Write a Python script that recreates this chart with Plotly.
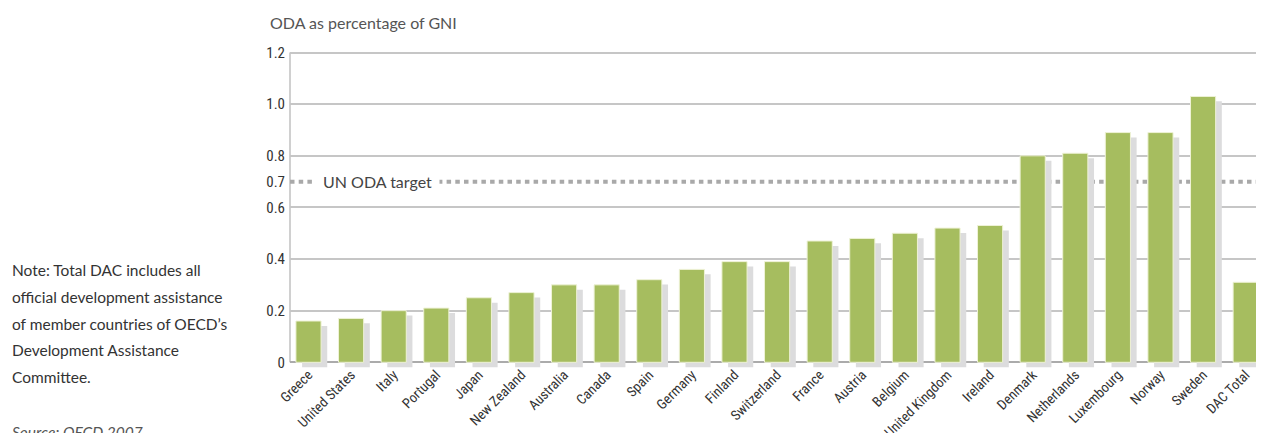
import plotly.graph_objects as go

countries = ["Greece", "United States", "Italy", "Portugal", "Japan", "New Zealand",
             "Australia", "Canada", "Spain", "Germany", "Finland", "Switzerland",
             "France", "Austria", "Belgium", "United Kingdom", "Ireland", "Denmark",
             "Netherlands", "Luxembourg", "Norway", "Sweden", "DAC Total"]
oda_pct_gni = [0.16, 0.17, 0.20, 0.21, 0.25, 0.27, 0.30, 0.30, 0.32, 0.36, 0.39, 0.39,
               0.47, 0.48, 0.50, 0.52, 0.53, 0.80, 0.81, 0.89, 0.89, 1.03, 0.31]
un_target = 0.7
y_ticks = [0, 0.2, 0.4, 0.6, 0.8, 1.0, 1.2]
y_tick_text = ["0", "0.2", "0.4", "0.6", "0.8", "1.0", "1.2"]
note_lines = ["Note: Total DAC includes all",
              "official development assistance",
              "of member countries of OECD\u2019s",
              "Development Assistance",
              "Committee."]
source_text = "Source: OECD 2007"
title_text = "ODA as percentage of GNI"
target_label = "UN ODA target"

# page has an 8px body margin; lay out in page pixels and convert
OFF = 8
PAGE_W, PAGE_H = 1264, 433
W, H = PAGE_W - OFF, PAGE_H - OFF
PLOT_L, PLOT_T, PLOT_B = 290, 50, 369          # page pixels
ML, MR = PLOT_L - OFF, 0
MT = PLOT_T - OFF
MB = H - (PLOT_B - OFF)
PW, PH = W - ML - MR, H - MT - MB

def px_x(px):
    return (px - PLOT_L) / PW

def px_y(py):
    return (PLOT_B - py) / PH

GREEN = "#a6bd5f"
SHADOW = "#dcdcdd"
COND = "Liberation Sans Narrow, Roboto Condensed, DejaVu Sans Condensed, sans-serif"
TEXTF = "Lato, Open Sans, sans-serif"

bw = 0.59
shift_x = 0.145
shift_y = 0.019

fig = go.Figure()
fig.add_trace(go.Bar(
    x=countries, y=oda_pct_gni, base=-shift_y, width=bw, offset=-bw / 2 + shift_x,
    marker=dict(color=SHADOW, line=dict(width=0)), hoverinfo="skip", showlegend=False))
fig.add_trace(go.Bar(
    x=countries, y=oda_pct_gni, width=bw, offset=-bw / 2,
    marker=dict(color=GREEN, line=dict(color="#eef2d6", width=1)), showlegend=False))
fig.add_trace(go.Scatter(x=[countries[0]], y=[un_target], yaxis="y2", mode="none",
                         hoverinfo="skip", showlegend=False))

yrange = [-0.026, 1.21]
fig.update_layout(
    width=W, height=H, margin=dict(l=ML, r=MR, t=MT, b=MB, autoexpand=False),
    paper_bgcolor="white", plot_bgcolor="white", barmode="overlay",
    xaxis=dict(range=[-0.434, len(countries) - 1 + 0.43], tickangle=-45,
               tickfont=dict(family=COND, size=14, color="#333333"),
               showgrid=False, showline=False, ticks="", zeroline=False,
               automargin=False, ticklabelstandoff=-6),
    yaxis=dict(range=yrange, tickvals=y_ticks, ticktext=y_tick_text,
               tickfont=dict(family=COND, size=15, color="#333333"),
               showgrid=True, gridcolor="#c6c6c6", gridwidth=1.5,
               zeroline=True, zerolinecolor="#ababab", zerolinewidth=2,
               showline=False, ticks="", ticklabelstandoff=4, automargin=False),
    yaxis2=dict(range=yrange, overlaying="y", side="left", tickvals=[un_target],
                ticktext=["0.7"], tickfont=dict(family=COND, size=15, color="#333333"),
                showgrid=False, zeroline=False, showline=False, ticks="",
                ticklabelstandoff=4, automargin=False),
)

# y axis line from 0 to 1.2
fig.add_shape(type="line", xref="paper", x0=0, x1=0, yref="y", y0=0, y1=y_ticks[-1],
              line=dict(color="#c0c0c0", width=1.5), layer="between")
# UN target dotted line
fig.add_shape(type="line", xref="paper", x0=0, x1=1, yref="y", y0=un_target, y1=un_target,
              line=dict(color="#a9a9a9", width=4, dash="4.5px,4.2px"), layer="between")
fig.add_annotation(text=target_label, xref="paper", yref="y", x=px_x(315), y=un_target,
                   xanchor="left", yanchor="middle", showarrow=False, bgcolor="white",
                   borderpad=7, font=dict(family=TEXTF, size=16, color="#444444"))

fig.add_annotation(text=title_text, xref="paper", yref="paper", x=px_x(268), y=px_y(23),
                   xanchor="left", yanchor="middle", showarrow=False,
                   font=dict(family=TEXTF, size=16, color="#555555"))

line_y = [270, 297, 323.5, 350, 376.5]
for t, yy in zip(note_lines, line_y):
    fig.add_annotation(text=t, xref="paper", yref="paper", x=px_x(10), y=px_y(yy),
                       xanchor="left", yanchor="middle", showarrow=False,
                       font=dict(family=TEXTF, size=15.5, color="#333333"))
fig.add_annotation(text="<i>" + source_text + "</i>", xref="paper", yref="paper",
                   x=px_x(10), y=px_y(432), xanchor="left", yanchor="middle",
                   showarrow=False, font=dict(family=TEXTF, size=15.5, color="#555555"))

fig.write_html("out.html")
